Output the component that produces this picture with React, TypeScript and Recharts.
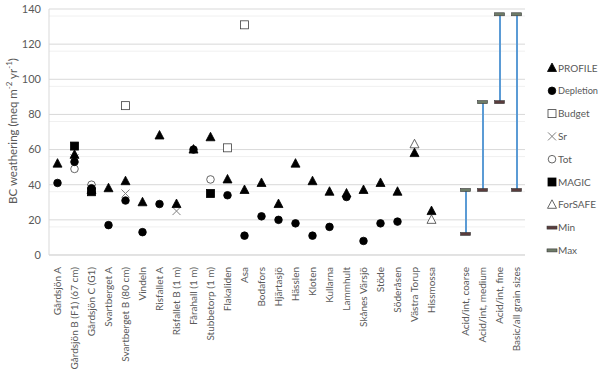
import React from 'react';
import { ComposedChart, Line, Bar, XAxis, YAxis, CartesianGrid } from 'recharts';

const sites = [
  'Gårdsjön A', 'Gårdsjön B (F1) (67 cm)', 'Gårdsjön C (G1)', 'Svartberget A', 'Svartberget B (80 cm)',
  'Vindeln', 'Risfallet A', 'Risfallet B (1 m)', 'Fårahall (1 m)', 'Stubbetorp (1 m)', 'Flakaliden', 'Asa',
  'Bodafors', 'Hjärtasjö', 'Hässlen', 'Kloten', 'Kullarna', 'Lammhult', 'Skånes Värsjö', 'Stöde',
  'Söderåsen', 'Västra Torup', 'Hissmossa', '',
  'Acid/int, coarse', 'Acid/int, medium', 'Acid/int, fine', 'Basic/all grain sizes',
];

const profile = [52, 57, 37, 38, 42, 30, 68, 29, 60, 67, 43, 37, 41, 29, 52, 42, 36, 35, 37, 41, 36, 58, 25, null, null, null, null, null];
const depletion = [41, 53, 38, 17, 31, 13, 29, null, 60, null, 34, 11, 22, 20, 18, 11, 16, 33, 8, 18, 19, null, null, null, null, null, null, null];
const budget = [null, null, null, null, 85, null, null, null, null, null, 61, 131, null, null, null, null, null, null, null, null, null, null, null, null, null, null, null, null];
const sr = [null, 55, 38, null, 35, null, null, 25, null, null, null, null, null, null, null, null, null, null, null, null, null, null, null, null, null, null, null, null];
const tot = [null, 49, 40, null, null, null, null, null, null, 43, null, null, null, null, null, null, null, null, null, null, null, null, null, null, null, null, null, null];
const magic = [null, 62, 36, null, null, null, null, null, null, 35, null, null, null, null, null, null, null, null, null, null, null, null, null, null, null, null, null, null];
const forsafe = [null, null, null, null, null, null, null, null, null, null, null, null, null, null, null, null, null, null, null, null, null, 63, 20, null, null, null, null, null];
const minVals = [null, null, null, null, null, null, null, null, null, null, null, null, null, null, null, null, null, null, null, null, null, null, null, null, 12, 37, 87, 37];
const maxVals = [null, null, null, null, null, null, null, null, null, null, null, null, null, null, null, null, null, null, null, null, null, null, null, null, 37, 87, 137, 137];

const yTicks = [0, 20, 40, 60, 80, 100, 120, 140];
const minorTicks = [4, 8, 12, 16, 24, 28, 32, 36, 44, 48, 52, 56, 64, 68, 72, 76, 84, 88, 92, 96, 104, 108, 112, 116, 124, 128, 132, 136];

const data = sites.map((name, i) => ({
  name,
  profile: profile[i],
  depletion: depletion[i],
  budget: budget[i],
  sr: sr[i],
  tot: tot[i],
  magic: magic[i],
  forsafe: forsafe[i],
  min: minVals[i],
  max: maxVals[i],
  range: minVals[i] != null ? [minVals[i], maxVals[i]] : null,
}));

const FONT = 'Lato, "Open Sans", sans-serif';

function has(p: any) {
  return p.cy != null && p.value != null && !Number.isNaN(p.cy);
}

const triangle = (fill: string, stroke: string) => (p: any) => {
  if (!has(p)) return <g key={p.index} />;
  const { cx, cy } = p;
  return <path key={p.index} d={`M${cx},${cy - 5} L${cx + 4.5},${cy + 3.5} L${cx - 4.5},${cy + 3.5} Z`} fill={fill} stroke={stroke} strokeWidth={0.8} />;
};
const circle = (fill: string, stroke: string) => (p: any) => {
  if (!has(p)) return <g key={p.index} />;
  return <circle key={p.index} cx={p.cx} cy={p.cy} r={3.8} fill={fill} stroke={stroke} strokeWidth={0.8} />;
};
const square = (fill: string, stroke: string) => (p: any) => {
  if (!has(p)) return <g key={p.index} />;
  return <rect key={p.index} x={p.cx - 4} y={p.cy - 4} width={8} height={8} fill={fill} stroke={stroke} strokeWidth={0.8} />;
};
const cross = (p: any) => {
  if (!has(p)) return <g key={p.index} />;
  const { cx, cy } = p;
  return <path key={p.index} d={`M${cx - 4},${cy - 4} L${cx + 4},${cy + 4} M${cx - 4},${cy + 4} L${cx + 4},${cy - 4}`} stroke="#7f7f7f" strokeWidth={1} />;
};
const dash = (fill: string) => (p: any) => {
  if (!has(p)) return <g key={p.index} />;
  return <rect key={p.index} x={p.cx - 5} y={p.cy - 1.5} width={10} height={3} fill={fill} stroke="#3a3a3a" strokeWidth={0.6} />;
};

function RangeShape(p: any) {
  if (p.height == null || p.width == null || !p.payload || p.payload.range == null) return <g />;
  const x = p.x + p.width / 2;
  return <line x1={x} x2={x} y1={p.y} y2={p.y + p.height} stroke="#5b9bd5" strokeWidth={2} />;
}

function XTick(p: any) {
  const { x, y, payload } = p;
  return (
    <text transform={`translate(${x},${y + 4}) rotate(-90)`} textAnchor="end" dy="0.35em" fill="#595959" fontSize={10} fontFamily={FONT}>
      {payload.value}
    </text>
  );
}

const legendItems = [
  { label: 'PROFILE', marker: triangle('#000', '#000') },
  { label: 'Depletion', marker: circle('#000', '#000') },
  { label: 'Budget', marker: square('#fff', '#404040') },
  { label: 'Sr', marker: cross },
  { label: 'Tot', marker: circle('#fff', '#404040') },
  { label: 'MAGIC', marker: square('#000', '#000') },
  { label: 'ForSAFE', marker: triangle('#fff', '#404040') },
  { label: 'Min', marker: dash('#5a3c3c') },
  { label: 'Max', marker: dash('#6e7c68') },
];

function LegendBox() {
  return (
    <svg width={54} height={200} style={{ position: 'absolute', left: 546, top: 60 }}>
      {legendItems.map((it, i) => {
        const cy = 8 + i * 22.8;
        return (
          <g key={it.label}>
            {it.marker({ cx: 6, cy, value: 1, index: i })}
            <text x={12} y={cy} dy="0.35em" fontSize={10} fill="#595959" fontFamily={FONT} textLength={it.label.length > 7 ? 40 : undefined} lengthAdjust="spacingAndGlyphs">{it.label}</text>
          </g>
        );
      })}
    </svg>
  );
}

export default function App() {
  return (
    <div style={{ position: 'absolute', left: 0, top: 0, width: 600, height: 377, background: '#fff' }}>
      <ComposedChart width={600} height={377} data={data} margin={{ top: 9, right: 75, left: 0, bottom: 12 }}>
        <CartesianGrid horizontalValues={minorTicks} vertical={false} stroke="#f0f0f0" />
        <CartesianGrid horizontalValues={yTicks} vertical={false} stroke="#d9d9d9" />
        <XAxis dataKey="name" interval={0} tick={<XTick />} tickLine={false} axisLine={{ stroke: '#d9d9d9' }} height={110} />
        <YAxis
          domain={[0, 140]}
          ticks={yTicks}
          width={49}
          tickLine={false}
          axisLine={{ stroke: '#d9d9d9' }}
          tick={{ fontSize: 11, fill: '#595959', fontFamily: FONT }}
          label={{
            content: () => (
              <text transform="translate(17,131) rotate(-90)" textAnchor="middle" fontSize={11.5} fill="#595959" fontFamily={FONT}>
                BC weathering (meq m<tspan baseline-shift="super" fontSize={8}>-2</tspan> yr<tspan baseline-shift="super" fontSize={8}>-1</tspan>)
              </text>
            ),
          }}
        />
        <Bar dataKey="range" barSize={4} shape={<RangeShape />} isAnimationActive={false} legendType="none" />
        <Line dataKey="min" stroke="none" dot={dash('#5a3c3c')} activeDot={false} isAnimationActive={false} />
        <Line dataKey="max" stroke="none" dot={dash('#6e7c68')} activeDot={false} isAnimationActive={false} />
        <Line dataKey="sr" stroke="none" dot={cross} activeDot={false} isAnimationActive={false} />
        <Line dataKey="tot" stroke="none" dot={circle('#fff', '#404040')} activeDot={false} isAnimationActive={false} />
        <Line dataKey="budget" stroke="none" dot={square('#fff', '#404040')} activeDot={false} isAnimationActive={false} />
        <Line dataKey="forsafe" stroke="none" dot={triangle('#fff', '#404040')} activeDot={false} isAnimationActive={false} />
        <Line dataKey="magic" stroke="none" dot={square('#000', '#000')} activeDot={false} isAnimationActive={false} />
        <Line dataKey="depletion" stroke="none" dot={circle('#000', '#000')} activeDot={false} isAnimationActive={false} />
        <Line dataKey="profile" stroke="none" dot={triangle('#000', '#000')} activeDot={false} isAnimationActive={false} />
      </ComposedChart>
      <LegendBox />
    </div>
  );
}
